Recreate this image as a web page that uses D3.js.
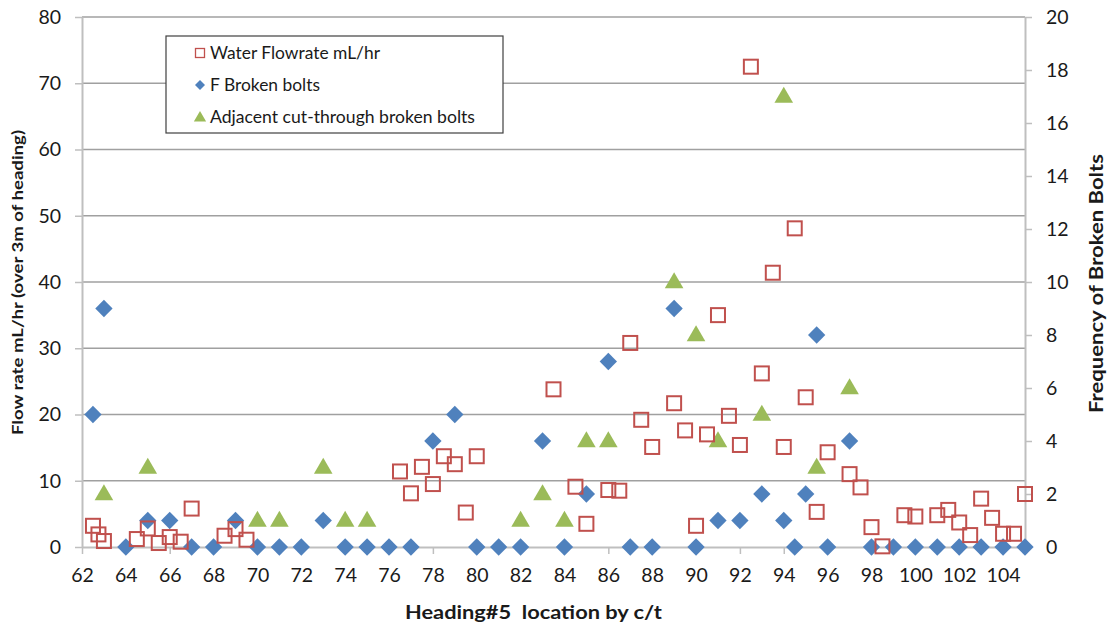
<!DOCTYPE html>
<html>
<head>
<meta charset="utf-8">
<script src="https://cdn.jsdelivr.net/npm/d3@7"></script>
<style>
  body { margin: 0; background: #fff; }
  text { font-family: Lato, "Open Sans", sans-serif; fill: #1a1a1a; }
  .axis-title { font-weight: bold; white-space: pre; }
</style>
</head>
<body>
<div id="chart"></div>
<script>
// Water flowrate (left axis): location by c/t, mL/hr
const flowX = [62.5, 62.75, 63, 64.5, 65, 65.5, 66, 66.5, 67, 68.5, 69, 69.5,
    76.5, 77, 77.5, 78, 78.5, 79, 79.5, 80, 83.5, 84.5, 85, 86, 86.5, 87, 87.5, 88,
    89, 89.5, 90, 90.5, 91, 91.5, 92, 92.5, 93, 93.5, 94, 94.5, 95, 95.5, 96,
    97, 97.5, 98, 98.5, 99.5, 100, 101, 101.5, 102, 102.5, 103, 103.5, 104, 104.5, 105];
const flowValues = [3.2, 1.9, 0.9, 1.2, 2.8, 0.6, 1.5, 0.8, 5.8, 1.7, 2.7, 1.1,
    11.4, 8.1, 12.1, 9.5, 13.7, 12.5, 5.2, 13.7, 23.8, 9.1, 3.5, 8.6, 8.5, 30.8, 19.2, 15.1,
    21.7, 17.6, 3.2, 17.0, 35.0, 19.8, 15.4, 72.5, 26.2, 41.4, 15.1, 48.1, 22.6, 5.3, 14.3,
    11.0, 9.0, 3.0, 0.1, 4.8, 4.6, 4.8, 5.6, 3.7, 1.8, 7.3, 4.4, 2.0, 2.0, 8.0];

// F broken bolts (right axis)
const boltX = [62.5, 63, 64, 65, 66, 67, 68, 69, 70, 71, 72, 73, 74, 75, 76, 77, 78, 79,
    80, 81, 82, 83, 84, 85, 86, 87, 88, 89, 90, 91, 92, 93, 94, 94.5, 95, 95.5, 96,
    97, 98, 99, 100, 101, 102, 103, 104, 105];
const boltValues = [5, 9, 0, 1, 1, 0, 0, 1, 0, 0, 0, 1, 0, 0, 0, 0, 4, 5,
    0, 0, 0, 4, 0, 2, 7, 0, 0, 9, 0, 1, 1, 2, 1, 0, 2, 8, 0,
    4, 0, 0, 0, 0, 0, 0, 0, 0];

// Adjacent cut-through broken bolts (right axis)
const adjX = [63, 65, 70, 71, 73, 74, 75, 82, 83, 84, 85, 86, 89, 90, 91, 93, 94, 95.5, 97];
const adjValues = [2, 3, 1, 1, 3, 1, 1, 1, 2, 1, 4, 4, 10, 8, 4, 5, 17, 3, 6];

const xTicks = d3.range(62, 105, 2);
const leftTicks = d3.range(0, 81, 10);
const rightTicks = d3.range(0, 21, 2);

const legendLabels = ['Water Flowrate mL/hr', 'F Broken bolts', 'Adjacent cut-through broken bolts'];
const legendWidths = [170, 110, 265];

const colors = {flow: '#c0504d', bolts: '#4f81bd', adj: '#9bbb59'};
const width = 1113, height = 628;
const margin = {top: 17, right: 88, bottom: 81, left: 82};
const innerW = width - margin.left - margin.right;
const innerH = height - margin.top - margin.bottom;

const svg = d3.select('#chart').append('svg')
    .attr('width', width)
    .attr('height', height);

const x = d3.scaleLinear().domain([62, 105]).range([margin.left, margin.left + innerW]);
const yLeft = d3.scaleLinear().domain([0, 80]).range([margin.top + innerH, margin.top]);
const yRight = d3.scaleLinear().domain([0, 20]).range([margin.top + innerH, margin.top]);

// horizontal gridlines on the left major ticks
svg.append('g')
    .selectAll('line')
    .data(leftTicks.filter(d => d > 0))
    .join('line')
    .attr('x1', margin.left)
    .attr('x2', margin.left + innerW)
    .attr('y1', d => yLeft(d))
    .attr('y2', d => yLeft(d))
    .attr('stroke', '#a0a0a0')
    .attr('stroke-width', 1.3);

function styleAxis(g) {
    g.select('.domain').attr('stroke', '#bfbfbf').attr('stroke-width', 2);
    g.selectAll('.tick line').attr('stroke', '#bfbfbf').attr('stroke-width', 1.5);
    g.selectAll('.tick text').style('font-size', '19.5px').attr('fill', '#1a1a1a');
}

svg.append('g')
    .attr('transform', `translate(0, ${margin.top + innerH})`)
    .call(d3.axisBottom(x).tickValues(xTicks).tickSize(7).tickSizeOuter(0).tickPadding(14).tickFormat(d3.format('d')))
    .call(styleAxis);

svg.append('g')
    .attr('transform', `translate(${margin.left}, 0)`)
    .call(d3.axisLeft(yLeft).tickValues(leftTicks).tickSize(7).tickSizeOuter(0).tickPadding(14))
    .call(styleAxis);

svg.append('g')
    .attr('transform', `translate(${margin.left + innerW}, 0)`)
    .call(d3.axisRight(yRight).tickValues(rightTicks).tickSize(7).tickSizeOuter(0).tickPadding(14))
    .call(styleAxis);

// axis titles
svg.append('text')
    .attr('class', 'axis-title')
    .attr('x', 405)
    .attr('y', 619)
    .attr('textLength', 257)
    .attr('lengthAdjust', 'spacingAndGlyphs')
    .style('font-size', '19px')
    .text('Heading#5  location by c/t');

svg.append('text')
    .attr('class', 'axis-title')
    .attr('transform', 'translate(23, 435) rotate(-90)')
    .attr('textLength', 305)
    .attr('lengthAdjust', 'spacingAndGlyphs')
    .style('font-size', '15px')
    .text('Flow rate mL/hr (over 3m of heading)');

svg.append('text')
    .attr('class', 'axis-title')
    .attr('transform', 'translate(1103, 413) rotate(-90)')
    .attr('textLength', 259)
    .attr('lengthAdjust', 'spacingAndGlyphs')
    .style('font-size', '19px')
    .text('Frequency of Broken Bolts');

const diamond = d3.symbol().type(d3.symbolSquare).size(150);
const triangle = d3.symbol().type(d3.symbolTriangle).size(150);

// F broken bolts
svg.append('g')
    .selectAll('path')
    .data(boltX.map((d, i) => [d, boltValues[i]]))
    .join('path')
    .attr('d', diamond)
    .attr('transform', d => `translate(${x(d[0])}, ${yRight(d[1])}) rotate(45)`)
    .attr('fill', colors.bolts);

// adjacent cut-through
svg.append('g')
    .selectAll('path')
    .data(adjX.map((d, i) => [d, adjValues[i]]))
    .join('path')
    .attr('d', triangle)
    .attr('transform', d => `translate(${x(d[0])}, ${yRight(d[1]) + 1})`)
    .attr('fill', colors.adj);

// water flowrate
const sq = 14;
svg.append('g')
    .selectAll('rect')
    .data(flowX.map((d, i) => [d, flowValues[i]]))
    .join('rect')
    .attr('x', d => x(d[0]) - sq / 2)
    .attr('y', d => yLeft(d[1]) - sq / 2)
    .attr('width', sq)
    .attr('height', sq)
    .attr('fill', 'none')
    .attr('stroke', colors.flow)
    .attr('stroke-width', 2);

// legend
const legend = svg.append('g').attr('transform', 'translate(166, 36)');
legend.append('rect')
    .attr('width', 337)
    .attr('height', 97)
    .attr('fill', '#fff')
    .attr('stroke', '#404040')
    .attr('stroke-width', 1.2);

const rows = legend.selectAll('g.row')
    .data(legendLabels)
    .join('g')
    .attr('class', 'row')
    .attr('transform', (d, i) => `translate(34, ${17 + i * 32})`);

rows.append('text')
    .attr('x', 10)
    .attr('y', 0)
    .attr('dy', '0.35em')
    .attr('textLength', (d, i) => legendWidths[i])
    .attr('lengthAdjust', 'spacingAndGlyphs')
    .style('font-size', '16.5px')
    .text(d => d);

rows.filter((d, i) => i === 0).append('rect')
    .attr('x', -4.5).attr('y', -4.5).attr('width', 9).attr('height', 9)
    .attr('fill', 'none').attr('stroke', colors.flow).attr('stroke-width', 1.3);
rows.filter((d, i) => i === 1).append('path')
    .attr('d', d3.symbol().type(d3.symbolSquare).size(50))
    .attr('transform', 'rotate(45)')
    .attr('fill', colors.bolts);
rows.filter((d, i) => i === 2).append('path')
    .attr('d', d3.symbol().type(d3.symbolTriangle).size(65))
    .attr('transform', 'translate(0, 1)')
    .attr('fill', colors.adj);
</script>
</body>
</html>
